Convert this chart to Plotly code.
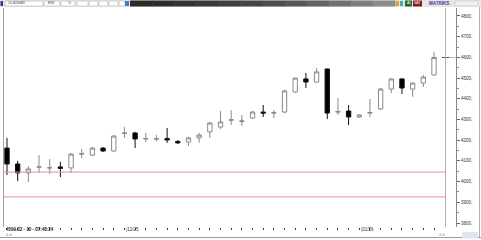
import plotly.graph_objects as go

# ---- data ----
candle_index = list(range(41))
open_ = [4162, 4085, 4042, 4070, 4066, 4071, 4066, 4133, 4128, 4162, 4148, 4233, 4235, 4206, 4205,
         4208, 4194, 4191, 4211, 4240, 4264, 4297, 4290, 4307, 4336, 4331, 4336, 4433, 4496, 4481,
         4544, 4336, 4341, 4312, 4331, 4351, 4447, 4496, 4447, 4476, 4515]
high = [4211, 4100, 4075, 4128, 4109, 4095, 4138, 4157, 4167, 4167, 4225, 4264, 4240, 4235, 4225,
        4259, 4201, 4216, 4235, 4288, 4341, 4345, 4322, 4341, 4370, 4346, 4443, 4502, 4525, 4549,
        4546, 4404, 4370, 4324, 4399, 4452, 4500, 4498, 4478, 4515, 4626]
low = [4032, 4003, 3998, 4042, 4037, 4022, 4042, 4114, 4124, 4143, 4143, 4211, 4162, 4191, 4195,
       4187, 4182, 4172, 4187, 4211, 4254, 4273, 4268, 4302, 4312, 4307, 4331, 4428, 4452, 4478,
       4302, 4322, 4273, 4307, 4312, 4346, 4428, 4423, 4409, 4457, 4512]
close = [4085, 4042, 4061, 4071, 4067, 4064, 4133, 4135, 4162, 4148, 4220, 4235, 4206, 4208, 4207,
         4201, 4187, 4211, 4225, 4283, 4288, 4298, 4293, 4336, 4331, 4333, 4438, 4500, 4481, 4530,
         4331, 4338, 4312, 4322, 4333, 4447, 4496, 4452, 4476, 4505, 4599.32]
level_lines = [4046, 3926]
last_price = 4599.32
x_label_pos = [11, 33]
x_label_text = ["12/25", "01/26"]
y_ticks = [3800, 3900, 4000, 4100, 4200, 4300, 4400, 4500, 4600, 4700, 4800]
status_text = "4599.32 - 10 - 07:48:24"

W, H = 481, 240
ML, MR, MT, MB = 4, 25, 8, 13
PW = W - ML - MR
PH = H - MT - MB


def px(x):
    return (x - ML) / PW


def py(y):
    return (H - MB - y) / PH


fig = go.Figure()
fig.add_trace(go.Candlestick(
    x=candle_index, open=open_, high=high, low=low, close=close,
    increasing=dict(line=dict(color="#8a8a8a", width=1), fillcolor="#ffffff"),
    decreasing=dict(line=dict(color="#111111", width=1), fillcolor="#000000"),
    hoverinfo="skip", showlegend=False,
))

shapes = []
for lv in level_lines:
    shapes.append(dict(type="line", xref="paper", yref="y", x0=0, x1=px(445), y0=lv, y1=lv,
                       line=dict(color="#f08c8c", width=1)))
# price marker
shapes.append(dict(type="line", xref="paper", yref="y", x0=px(442), x1=px(449), y0=last_price, y1=last_price,
                   line=dict(color="#555555", width=1)))
shapes.append(dict(type="line", xref="paper", yref="y", x0=px(449), x1=px(456), y0=last_price, y1=last_price,
                   line=dict(color="#8fd3e0", width=1)))
# frame lines
shapes.append(dict(type="line", xref="paper", yref="paper", x0=px(3.5), x1=px(3.5), y0=0, y1=1,
                   line=dict(color="#a0a0a0", width=1)))
shapes.append(dict(type="line", xref="paper", yref="paper", x0=px(445.5), x1=px(445.5), y0=0, y1=1,
                   line=dict(color="#b0b0b0", width=1)))
shapes.append(dict(type="line", xref="paper", yref="paper", x0=px(479.5), x1=px(479.5), y0=py(237), y1=py(7),
                   line=dict(color="#b0b0b0", width=1)))
shapes.append(dict(type="line", xref="paper", yref="paper", x0=px(0), x1=px(481), y0=py(237.5), y1=py(237.5),
                   line=dict(color="#9a9a9a", width=1)))
# toolbar
shapes.append(dict(type="rect", xref="paper", yref="paper", x0=px(0), x1=px(481), y0=py(7), y1=py(0),
                   line=dict(width=0), fillcolor="#e6e6e6", layer="below"))
grad = ["#2a2a2a", "#2e2e2e", "#333333", "#383838", "#3e3e3e", "#454545", "#4e4e4e", "#585858",
        "#636363", "#707070", "#7e7e7e", "#8c8c8c"]
gx0, gx1 = 130, 395
step = (gx1 - gx0) / len(grad)
for i, c in enumerate(grad):
    shapes.append(dict(type="rect", xref="paper", yref="paper", x0=px(gx0 + i * step), x1=px(gx0 + (i + 1) * step + 0.5),
                       y0=py(6.5), y1=py(0.5), line=dict(width=0), fillcolor=c))
boxes = [(5, 43), (44, 60), (61, 75), (77, 88), (89, 98), (99, 108), (109, 118), (119, 125)]
for a, b in boxes:
    shapes.append(dict(type="rect", xref="paper", yref="paper", x0=px(a), x1=px(b), y0=py(6), y1=py(1),
                       line=dict(color="#b5b5b5", width=0.6), fillcolor="#ffffff"))
shapes.append(dict(type="rect", xref="paper", yref="paper", x0=px(0.5), x1=px(3), y0=py(6), y1=py(1),
                   line=dict(width=0), fillcolor="#2a3f8a"))
shapes.append(dict(type="rect", xref="paper", yref="paper", x0=px(125), x1=px(129), y0=py(6), y1=py(1),
                   line=dict(width=0), fillcolor="#3f7fd0"))
shapes.append(dict(type="rect", xref="paper", yref="paper", x0=px(396), x1=px(399), y0=py(6), y1=py(1),
                   line=dict(width=0), fillcolor="#e0a030"))
shapes.append(dict(type="rect", xref="paper", yref="paper", x0=px(400), x1=px(403), y0=py(6), y1=py(1),
                   line=dict(width=0), fillcolor="#40b0b0"))
shapes.append(dict(type="rect", xref="paper", yref="paper", x0=px(405), x1=px(412), y0=py(6.5), y1=py(0.5),
                   line=dict(width=0), fillcolor="#1f6e2a"))
shapes.append(dict(type="rect", xref="paper", yref="paper", x0=px(413), x1=px(422), y0=py(6.5), y1=py(0.5),
                   line=dict(width=0), fillcolor="#8a1a1a"))
shapes.append(dict(type="rect", xref="paper", yref="paper", x0=px(455), x1=px(478), y0=py(6), y1=py(1),
                   line=dict(color="#c8c8c8", width=0.6), fillcolor="#f0f0f0"))
shapes.append(dict(type="rect", xref="paper", yref="paper", x0=px(462), x1=px(478), y0=py(238.5), y1=py(232),
                   line=dict(width=0), fillcolor="#dfe6f2"))

annotations = []
for pos, txt in zip(x_label_pos, x_label_text):
    annotations.append(dict(x=pos, xref="x", y=py(229.5), yref="paper", text="|" + txt, showarrow=False,
                            xanchor="left", yanchor="middle", font=dict(size=4.5, color="#333333",
                                                                        family="Liberation Sans")))
annotations.append(dict(x=px(4), xref="paper", y=py(229.5), yref="paper", text="<b>" + status_text + "</b>",
                        showarrow=False, xanchor="left", yanchor="middle",
                        font=dict(size=4.5, color="#222222", family="Liberation Sans")))
annotations.append(dict(x=px(4), xref="paper", y=py(234), yref="paper", text="4 d", showarrow=False,
                        xanchor="left", yanchor="middle", font=dict(size=4, color="#888888", family="Liberation Sans")))
annotations.append(dict(x=px(447), xref="paper", y=py(234), yref="paper", text="4 d", showarrow=False,
                        xanchor="right", yanchor="middle", font=dict(size=4, color="#888888", family="Liberation Sans")))
annotations.append(dict(x=px(439), xref="paper", y=py(3.5), yref="paper", text="<b>MATRIKS</b>", showarrow=False,
                        xanchor="center", yanchor="middle", font=dict(size=4.5, color="#3a3aa0", family="Liberation Sans")))
annotations.append(dict(x=px(408.5), xref="paper", y=py(3.5), yref="paper", text="AL", showarrow=False,
                        xanchor="center", yanchor="middle", font=dict(size=3.5, color="#ffffff", family="Liberation Sans")))
annotations.append(dict(x=px(417.5), xref="paper", y=py(3.5), yref="paper", text="SAT", showarrow=False,
                        xanchor="center", yanchor="middle", font=dict(size=3.5, color="#ffffff", family="Liberation Sans")))
annotations.append(dict(x=px(6), xref="paper", y=py(3.5), yref="paper", text="GLAXMAR", showarrow=False,
                        xanchor="left", yanchor="middle", font=dict(size=3.5, color="#555555", family="Liberation Sans")))
annotations.append(dict(x=px(46), xref="paper", y=py(3.5), yref="paper", text="BIM", showarrow=False,
                        xanchor="left", yanchor="middle", font=dict(size=3.5, color="#555555", family="Liberation Sans")))
annotations.append(dict(x=px(66), xref="paper", y=py(3.5), yref="paper", text="%", showarrow=False,
                        xanchor="left", yanchor="middle", font=dict(size=3.5, color="#555555", family="Liberation Sans")))

fig.update_layout(
    width=W, height=H,
    margin=dict(l=ML, r=MR, t=MT, b=MB, pad=0),
    paper_bgcolor="#ffffff", plot_bgcolor="#ffffff",
    boxgap=0.42,
    shapes=shapes, annotations=annotations,
    font=dict(family="Liberation Sans", size=5, color="#333333"),
    xaxis=dict(domain=[0, (445 - ML) / PW], range=[-0.28, 41.03], rangeslider=dict(visible=False),
               showgrid=False, zeroline=False, showline=False,
               tickmode="array", tickvals=candle_index, ticktext=[""] * len(candle_index),
               ticks="outside", ticklen=2, tickwidth=1, tickcolor="#333333", fixedrange=True),
    yaxis=dict(anchor="free", position=1.0, side="right", range=[3780.7, 4838.6],
               tickmode="array", tickvals=y_ticks, ticktext=[str(v) + "," for v in y_ticks],
               showgrid=False, zeroline=False, showline=True, linecolor="#888888", linewidth=1,
               ticks="outside", ticklen=3, tickcolor="#666666",
               tickfont=dict(size=4.5, color="#333333"),
               minor=dict(ticks="outside", ticklen=2, dtick=50, tick0=3750, tickcolor="#888888"),
               fixedrange=True),
)

fig.write_html("out.html")
